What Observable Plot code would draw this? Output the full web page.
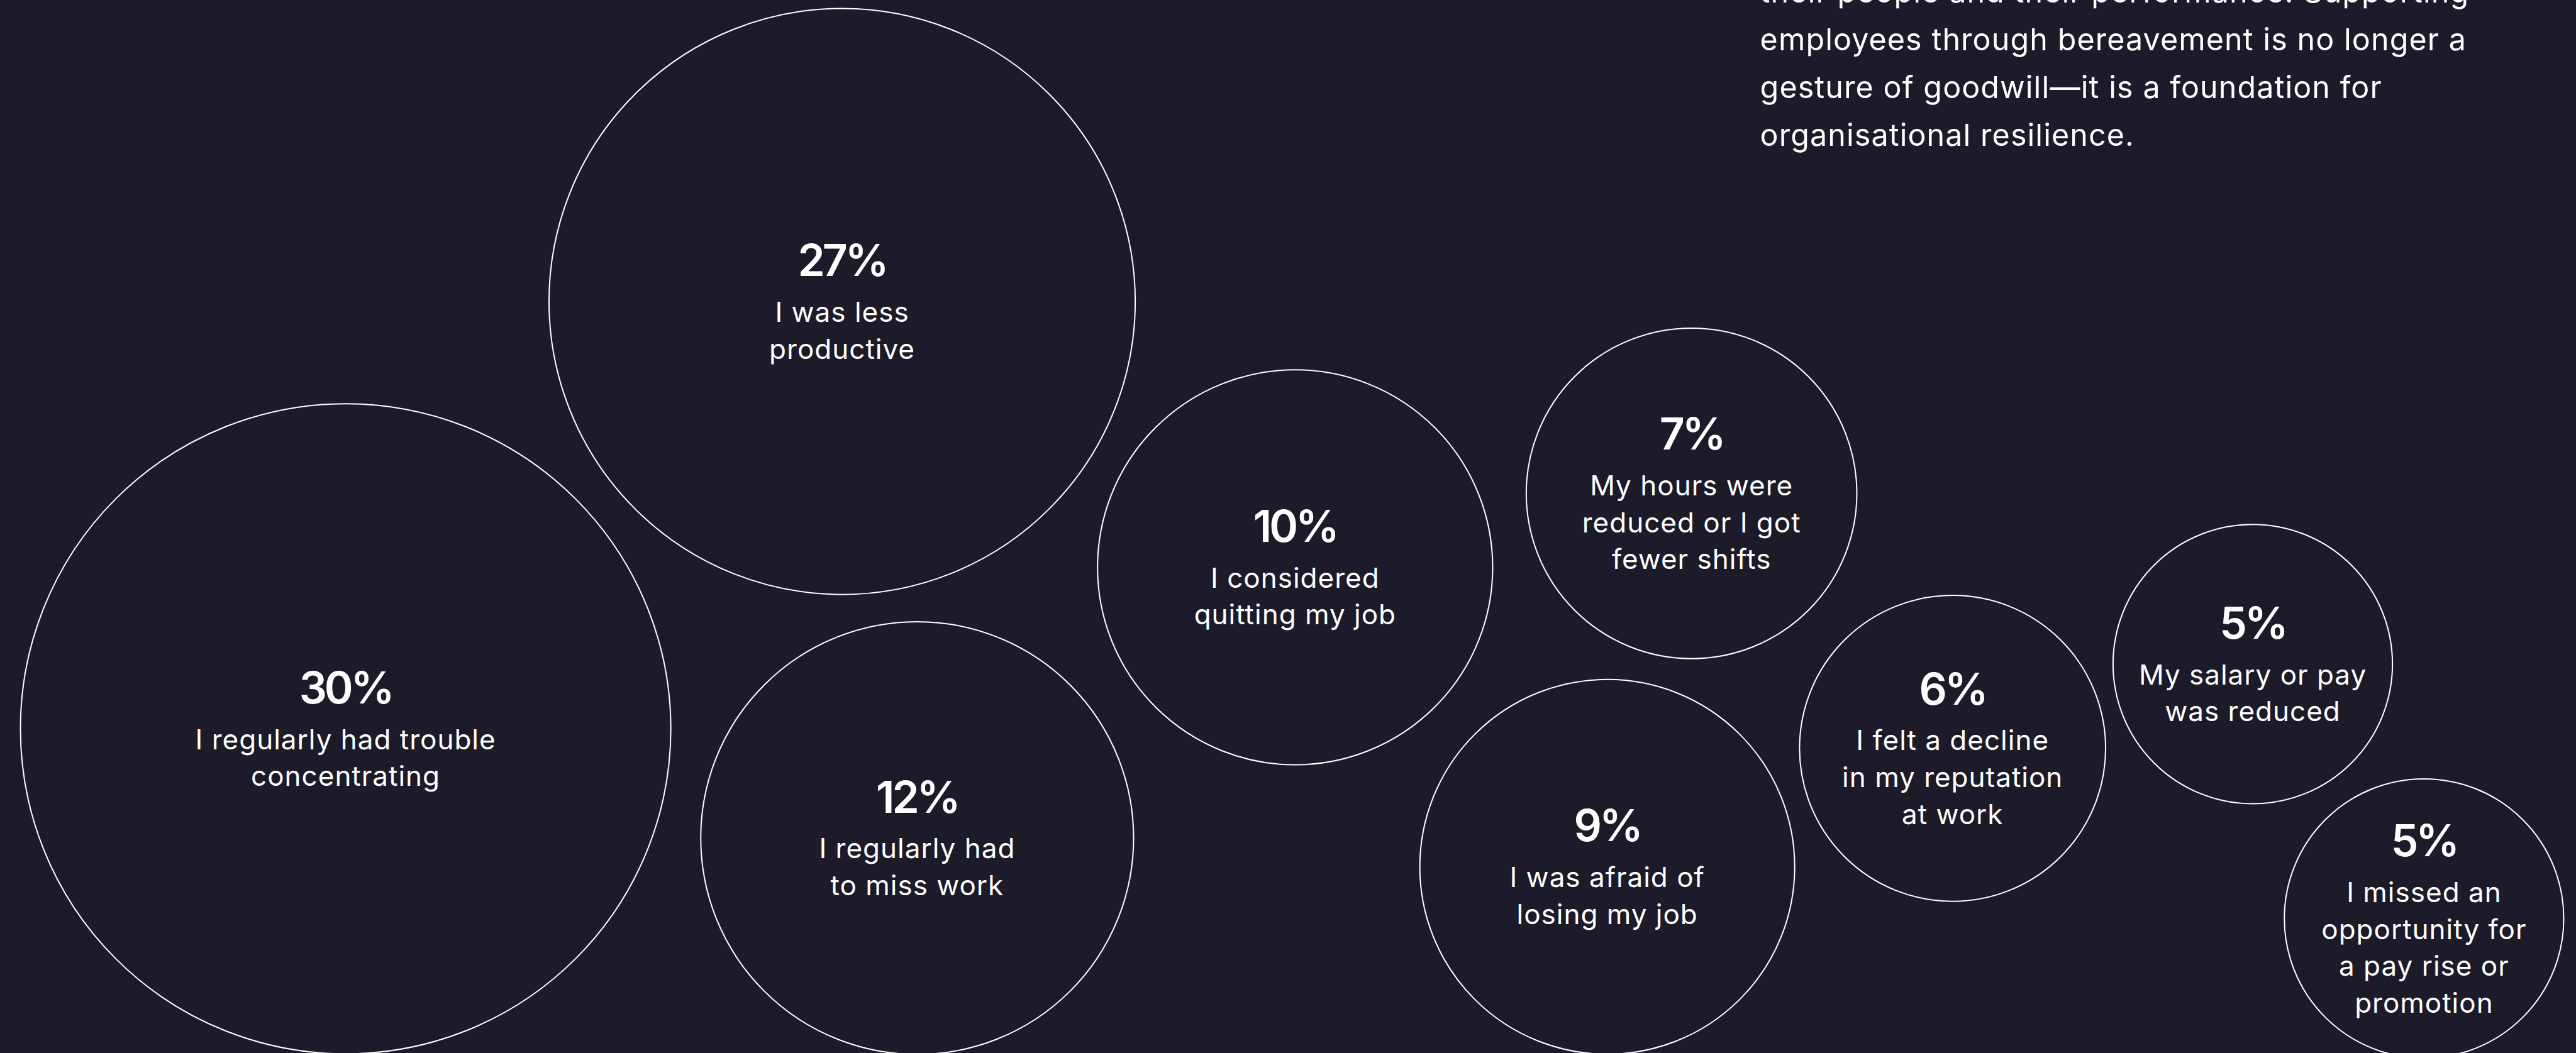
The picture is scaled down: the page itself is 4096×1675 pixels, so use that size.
<!DOCTYPE html>
<html>
<head>
<meta charset="utf-8">
<script src="https://cdn.jsdelivr.net/npm/d3@7"></script>
<script src="https://cdn.jsdelivr.net/npm/@observablehq/plot@0.6"></script>
<style>
  html, body { margin: 0; padding: 0; background: #1d1a29; overflow: hidden; }
  #chart { width: 4096px; height: 1675px; }
</style>
</head>
<body>
<div id="chart"></div>
<script>
// ---- Data ----
const percentages = [30, 27, 12, 10, 9, 7, 6, 5, 5];
const statements = [
  "I regularly had trouble\nconcentrating",
  "I was less\nproductive",
  "I regularly had\nto miss work",
  "I considered\nquitting my job",
  "I was afraid of\nlosing my job",
  "My hours were\nreduced or I got\nfewer shifts",
  "I felt a decline\nin my reputation\nat work",
  "My salary or pay\nwas reduced",
  "I missed an\nopportunity for\na pay rise or\npromotion"
];
const noteLines = [
  "their people and their performance. Supporting",
  "employees through bereavement is no longer a",
  "gesture of goodwill\u2014it is a foundation for",
  "organisational resilience."
];

// ---- Layout of the bubble arrangement (reference canvas units, 4737 x 1937) ----
const bubbleX = [635, 1548, 1686, 2381, 2955, 3110, 3590, 4142, 4457];
const bubbleY = [1340, 554, 1541, 1043, 1594, 907, 1376, 1221, 1689];
const noteX = 3236, noteLastBaseline = 267.5;

// ---- Build table ----
const bubbles = percentages.map((p, i) => ({
  pct: p,
  label: statements[i],
  cx: bubbleX[i],
  cy: bubbleY[i],
  lines: statements[i].split("\n").length
}));

const W = 4096, H = 1675, S = W / 4737;
const pctCap = 58.5, pctGap = 84, lineStep = 68; // reference units
const blockH = d => pctCap + pctGap + lineStep * (d.lines - 1);

const bg = "#1d1a29";
const font = "Inter, 'Noto Sans', sans-serif";

const chart = Plot.plot({
  width: W,
  height: H,
  margin: 0,
  x: {domain: [0, 4737], range: [0, W], axis: null},
  y: {domain: [0, 1937], range: [0, H], axis: null},
  r: {type: "sqrt", domain: [0, 12, 27, 30], range: [0, 398 * S, 539 * S, 598 * S]},
  style: {background: bg, color: "white", fontFamily: font, overflow: "hidden"},
  marks: [
    Plot.dot(bubbles, {
      x: "cx", y: "cy", r: "pct",
      fill: "none", stroke: "white", strokeWidth: 2
    }),
    Plot.text(bubbles, {
      x: "cx",
      y: d => d.cy - blockH(d) / 2 + pctCap,
      text: d => d.pct + "%",
      lineAnchor: "bottom",
      textAnchor: "middle",
      fontSize: 69.5,
      fontWeight: 600,
      fontFamily: font,
      fill: "white"
    }),
    Plot.text(bubbles, {
      x: "cx",
      y: d => d.cy + blockH(d) / 2,
      text: "label",
      lineAnchor: "bottom",
      textAnchor: "middle",
      lineHeight: 68 / 51,
      fontSize: 44,
      fontWeight: 400,
      fontFamily: font,
      fill: "white"
    }),
    Plot.text([noteLines.join("\n")], {
      x: () => noteX,
      y: () => noteLastBaseline,
      text: d => d,
      lineAnchor: "bottom",
      textAnchor: "start",
      lineHeight: 88 / 56,
      fontSize: 48.4,
      fontWeight: 400,
      fontFamily: font,
      fill: "white"
    })
  ]
});

// tracking adjustments to match the reference typography
const textGroups = d3.select(chart).selectAll('g[aria-label="text"]').nodes();
const tracking = ["-4px", "1px", "1.1px"];
textGroups.forEach((g, i) => { if (tracking[i]) g.style.letterSpacing = tracking[i]; });

document.getElementById("chart").appendChild(chart);
</script>
</body>
</html>
